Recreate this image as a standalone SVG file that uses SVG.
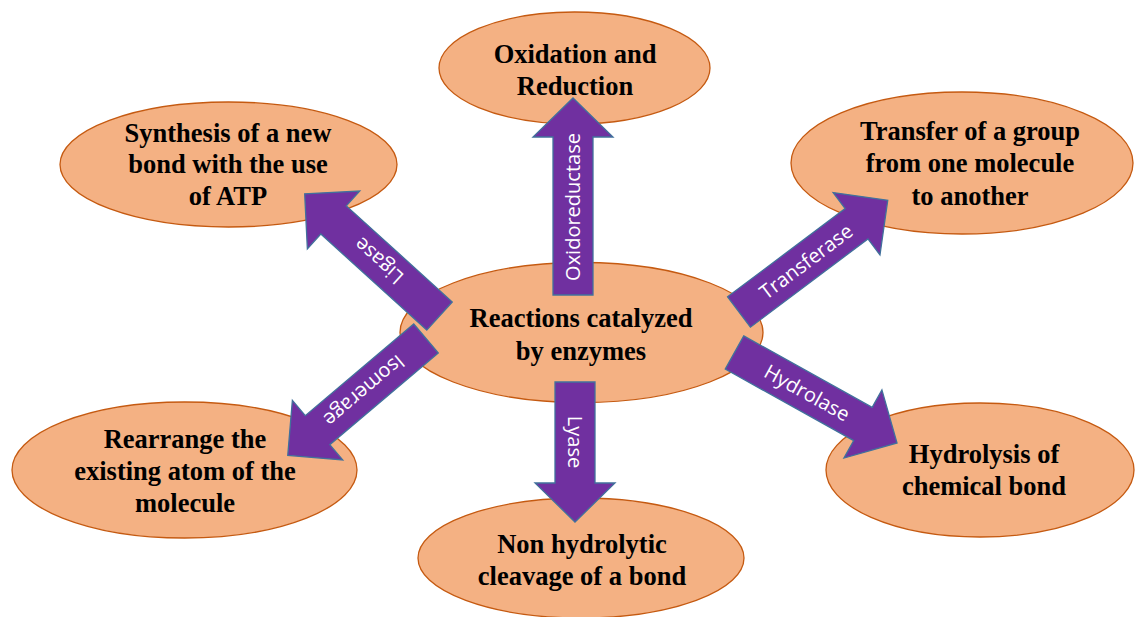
<svg xmlns="http://www.w3.org/2000/svg" width="1135" height="617" viewBox="0 0 1135 617">
<style>
.node ellipse{fill:#F4B183;stroke:#C55A11;stroke-width:1.3}
.node text{font-family:"Liberation Serif","Times New Roman",serif;font-weight:bold;font-size:26.5px;fill:#000;text-anchor:middle}
.arrow path{fill:#7030A0;stroke:#41719C;stroke-width:1.3;stroke-linejoin:miter}
.arrow text{font-family:"Open Sans","Noto Sans",sans-serif;font-size:20px;fill:#fff;text-anchor:middle}
</style>
<rect width="1135" height="617" fill="#fff"/>
<g id="node-oxidation" class="node">
<ellipse cx="574.5" cy="68" rx="135.5" ry="56"/>
<text x="575" y="63">Oxidation and</text>
<text x="575" y="95">Reduction</text>
</g>
<g id="node-synthesis" class="node">
<ellipse cx="228.5" cy="164.5" rx="168.5" ry="62.5"/>
<text x="228" y="142">Synthesis of a new</text>
<text x="228" y="173">bond with the use</text>
<text x="228" y="205">of ATP</text>
</g>
<g id="node-transfer" class="node">
<ellipse cx="962" cy="163" rx="171" ry="71"/>
<text x="970" y="140">Transfer of a group</text>
<text x="970" y="172">from one molecule</text>
<text x="970" y="205">to another</text>
</g>
<g id="node-center" class="node">
<ellipse cx="581.5" cy="332.5" rx="181.5" ry="70"/>
<text x="581" y="327">Reactions catalyzed</text>
<text x="581" y="360">by enzymes</text>
</g>
<g id="node-rearrange" class="node">
<ellipse cx="184.5" cy="470" rx="172.5" ry="68"/>
<text x="185" y="448">Rearrange the</text>
<text x="185" y="480">existing atom of the</text>
<text x="185" y="512">molecule</text>
</g>
<g id="node-nonhydrolytic" class="node">
<ellipse cx="581" cy="558" rx="163" ry="60"/>
<text x="582" y="553">Non hydrolytic</text>
<text x="582" y="585">cleavage of a bond</text>
</g>
<g id="node-hydrolysis" class="node">
<ellipse cx="980" cy="470" rx="154" ry="67"/>
<text x="984" y="463">Hydrolysis of</text>
<text x="984" y="495">chemical bond</text>
</g>
<g id="connectors">
<g class="arrow" id="arrow-oxidoreductase" transform="translate(573,295) rotate(-90)">
<path d="M0,-20 H158 V-40 L197,0 L158,40 V20 H0 Z"/>
<text x="88" y="0" dy=".35em">Oxidoreductase</text>
</g>
<g class="arrow" id="arrow-lyase" transform="translate(575,382) rotate(90)">
<path d="M0,-20 H101 V-40 L140,0 L101,40 V20 H0 Z"/>
<text x="60" y="0" dy=".35em">Lyase</text>
</g>
<g class="arrow" id="arrow-ligase" transform="translate(439.5,316) rotate(-137.8)">
<path d="M0,-19 H143 V-39 L182,0 L143,39 V19 H0 Z"/>
<text x="82" y="0" dy=".35em">Ligase</text>
</g>
<g class="arrow" id="arrow-transferase" transform="translate(739,312) rotate(-36.9)">
<path d="M0,-19 H147 V-39 L186,0 L147,39 V19 H0 Z"/>
<text x="84" y="0" dy=".35em">Transferase</text>
</g>
<g class="arrow" id="arrow-isomerage" transform="translate(426,338.5) rotate(139.8)">
<path d="M0,-19 H142 V-39 L181,0 L142,39 V19 H0 Z"/>
<text x="81" y="0" dy=".35em">Isomerage</text>
</g>
<g class="arrow" id="arrow-hydrolase" transform="translate(734.5,352.5) rotate(29.1)">
<path d="M0,-19 H147 V-39 L186,0 L147,39 V19 H0 Z"/>
<text x="83" y="0" dy=".35em">Hydrolase</text>
</g>
</g>
</svg>
